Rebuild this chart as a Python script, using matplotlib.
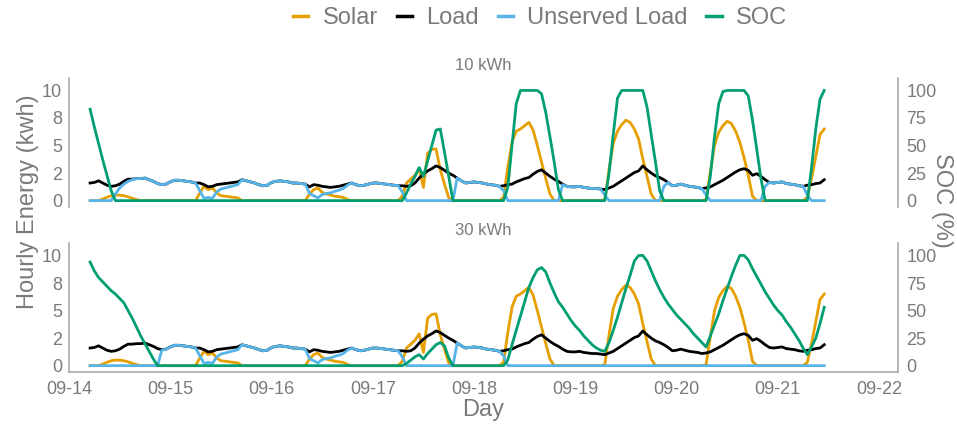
"""Hourly solar, load, unserved load and battery SOC for two battery sizes."""

import matplotlib
matplotlib.use("Agg")
import matplotlib.dates as mdates
import matplotlib.pyplot as plt
from matplotlib.lines import Line2D
from matplotlib.ticker import FixedLocator, FormatStrFormatter
import pandas as pd

plt.rcParams["font.family"] = ["Liberation Sans", "DejaVu Sans"]

START = "2023-09-14 05:00"

# hourly kWh, 09-14 05:00 through 09-21 11:00 (one row per day)
solar = [
    0, 0, 0, 0.15, 0.3, 0.45, 0.5, 0.5, 0.45, 0.35, 0.2, 0.1, 0, 0, 0, 0, 0, 0, 0,
    0, 0, 0, 0, 0, 0, 0, 0.7, 1.3, 1.0, 1.15, 0.7, 0.45, 0.4, 0.35, 0.3, 0.25, 0, 0, 0, 0, 0, 0, 0,
    0, 0, 0, 0, 0, 0, 0, 0, 0, 0.6, 1.0, 1.15, 0.75, 0.6, 0.5, 0.4, 0.35, 0.3, 0.1, 0, 0, 0, 0, 0,
    0, 0, 0, 0, 0, 0, 0, 0.4, 1.6, 1.95, 2.3, 2.9, 1.2, 4.3, 4.65, 4.7, 2.8, 1.5, 0.25, 0, 0, 0, 0, 0,
    0, 0, 0, 0, 0, 0, 0, 0.3, 3.0, 5.3, 6.3, 6.5, 6.8, 7.1, 6.4, 5.0, 3.5, 2.0, 0.6, 0, 0, 0, 0, 0,
    0, 0, 0, 0, 0, 0, 0, 0.1, 2.8, 5.2, 6.3, 6.9, 7.3, 7.1, 6.5, 5.6, 3.8, 2.2, 0.6, 0, 0, 0, 0, 0,
    0, 0, 0, 0, 0, 0, 0, 0.1, 2.6, 5.0, 6.2, 6.8, 7.2, 7.0, 6.3, 5.3, 3.9, 2.3, 0.4, 0, 0, 0, 0, 0,
    0, 0, 0, 0, 0, 0, 0, 0.3, 2.0, 4.0, 6.0, 6.5,
]
load = [
    1.6, 1.65, 1.8, 1.6, 1.4, 1.3, 1.35, 1.5, 1.75, 1.95, 1.95, 2.0, 2.0, 2.05, 1.9, 1.75, 1.55, 1.45, 1.5,
    1.7, 1.85, 1.85, 1.8, 1.75, 1.7, 1.6, 1.6, 1.45, 1.25, 1.3, 1.45, 1.5, 1.55, 1.6, 1.65, 1.7, 1.9, 1.8, 1.7, 1.6, 1.45, 1.35, 1.4,
    1.65, 1.75, 1.8, 1.75, 1.7, 1.6, 1.6, 1.55, 1.5, 1.25, 1.45, 1.4, 1.3, 1.25, 1.2, 1.25, 1.3, 1.4, 1.5, 1.6, 1.45, 1.35, 1.4, 1.5,
    1.6, 1.6, 1.55, 1.5, 1.45, 1.4, 1.35, 1.35, 1.3, 1.35, 1.6, 2.05, 2.4, 2.7, 2.9, 3.15, 3.0, 2.75, 2.5, 2.3, 2.05, 1.8, 1.6, 1.65,
    1.7, 1.65, 1.6, 1.5, 1.45, 1.4, 1.3, 1.35, 1.45, 1.5, 1.7, 1.85, 2.0, 2.1, 2.4, 2.65, 2.8, 2.5, 2.2, 1.95, 1.75, 1.5, 1.3, 1.25,
    1.25, 1.3, 1.2, 1.15, 1.1, 1.1, 1.05, 1.0, 1.15, 1.3, 1.55, 1.8, 2.05, 2.3, 2.55, 2.7, 3.15, 2.8, 2.5, 2.25, 2.1, 1.9, 1.65, 1.35,
    1.4, 1.5, 1.4, 1.3, 1.25, 1.2, 1.1, 1.15, 1.25, 1.45, 1.65, 1.85, 2.1, 2.35, 2.6, 2.8, 2.9, 2.75, 2.3, 2.45, 2.2, 1.9, 1.65, 1.6,
    1.65, 1.7, 1.55, 1.5, 1.45, 1.35, 1.3, 1.4, 1.45, 1.55, 1.6, 1.9,
]
unserved_10 = [
    0, 0, 0, 0, 0, 0, 0.6, 1.15, 1.5, 1.75, 1.9, 2.0, 2.0, 2.05, 1.9, 1.75, 1.55, 1.45, 1.5,
    1.7, 1.85, 1.85, 1.8, 1.75, 1.7, 1.6, 0.9, 0.2, 0.3, 0.2, 0.8, 1.05, 1.15, 1.25, 1.35, 1.45, 1.9, 1.8, 1.7, 1.6, 1.45, 1.35, 1.4,
    1.65, 1.75, 1.8, 1.75, 1.7, 1.6, 1.6, 1.55, 1.5, 0.65, 0.45, 0.25, 0.55, 0.65, 0.7, 0.85, 0.95, 1.1, 1.4, 1.6, 1.45, 1.35, 1.4, 1.5,
    1.6, 1.6, 1.55, 1.5, 1.45, 1.4, 1.35, 0.8, 0, 0, 0, 0, 0, 0, 0, 0, 0, 0, 0, 0, 2.05, 1.8, 1.6, 1.65,
    1.7, 1.65, 1.6, 1.5, 1.45, 1.4, 1.3, 0.9, 0, 0, 0, 0, 0, 0, 0, 0, 0, 0, 0, 0, 0, 1.45, 1.3, 1.25,
    1.25, 1.3, 1.2, 1.15, 1.1, 1.1, 1.05, 0.5, 0, 0, 0, 0, 0, 0, 0, 0, 0, 0, 0, 0, 0, 1.3, 1.65, 1.35,
    1.4, 1.5, 1.4, 1.3, 1.25, 1.2, 1.1, 0.5, 0, 0, 0, 0, 0, 0, 0, 0, 0, 0, 0, 0, 0, 1.3, 1.65, 1.6,
    1.65, 1.7, 1.55, 1.5, 1.45, 1.35, 1.3, 0.5, 0, 0, 0, 0,
]
unserved_30 = [
    0, 0, 0, 0, 0, 0, 0, 0, 0, 0, 0, 0, 0, 0, 0, 0, 0, 1.4, 1.5,
    1.7, 1.85, 1.85, 1.8, 1.75, 1.7, 1.6, 0.9, 0.2, 0.3, 0.2, 0.8, 1.05, 1.15, 1.25, 1.35, 1.45, 1.9, 1.8, 1.7, 1.6, 1.45, 1.35, 1.4,
    1.65, 1.75, 1.8, 1.75, 1.7, 1.6, 1.6, 1.55, 1.5, 0.65, 0.45, 0.25, 0.55, 0.65, 0.7, 0.85, 0.95, 1.1, 1.4, 1.6, 1.45, 1.35, 1.4, 1.5,
    1.6, 1.6, 1.55, 1.5, 1.45, 1.4, 1.35, 0.8, 0, 0, 0, 0, 0, 0, 0, 0, 0, 0, 0, 0, 2.05, 1.8, 1.6, 1.65,
    1.7, 1.65, 1.6, 1.5, 1.45, 1.4, 1.3, 0.9, 0, 0, 0, 0, 0, 0, 0, 0, 0, 0, 0, 0, 0, 0, 0, 0,
    0, 0, 0, 0, 0, 0, 0, 0, 0, 0, 0, 0, 0, 0, 0, 0, 0, 0, 0, 0, 0, 0, 0, 0,
    0, 0, 0, 0, 0, 0, 0, 0, 0, 0, 0, 0, 0, 0, 0, 0, 0, 0, 0, 0, 0, 0, 0, 0,
    0, 0, 0, 0, 0, 0, 0, 0, 0, 0, 0, 0,
]
# battery state of charge, %
soc_10 = [
    83, 67, 52, 37, 23, 9, 0, 0, 0, 0, 0, 0, 0, 0, 0, 0, 0, 0, 0,
    0, 0, 0, 0, 0, 0, 0, 0, 0, 0, 0, 0, 0, 0, 0, 0, 0, 0, 0, 0, 0, 0, 0, 0,
    0, 0, 0, 0, 0, 0, 0, 0, 0, 0, 0, 0, 0, 0, 0, 0, 0, 0, 0, 0, 0, 0, 0, 0,
    0, 0, 0, 0, 0, 0, 0, 0, 7, 15, 22, 30, 22, 36, 50, 64, 65, 44, 22, 0, 0, 0, 0, 0,
    0, 0, 0, 0, 0, 0, 0, 0, 12, 50, 88, 100, 100, 100, 100, 100, 97, 80, 58, 35, 10, 0, 0, 0,
    0, 0, 0, 0, 0, 0, 0, 0, 25, 60, 93, 100, 100, 100, 100, 100, 100, 85, 60, 35, 9, 0, 0, 0,
    0, 0, 0, 0, 0, 0, 0, 0, 22, 58, 88, 99, 100, 100, 100, 100, 100, 95, 73, 47, 20, 0, 0, 0,
    0, 0, 0, 0, 0, 0, 0, 0, 30, 65, 92, 100,
]
soc_30 = [
    94, 86, 80, 76, 72, 68, 65, 61, 57, 50, 43, 35, 27, 20, 13, 6, 0, 0, 0,
    0, 0, 0, 0, 0, 0, 0, 0, 0, 0, 0, 0, 0, 0, 0, 0, 0, 0, 0, 0, 0, 0, 0, 0,
    0, 0, 0, 0, 0, 0, 0, 0, 0, 0, 0, 0, 0, 0, 0, 0, 0, 0, 0, 0, 0, 0, 0, 0,
    0, 0, 0, 0, 0, 0, 0, 0, 2, 5, 8, 10, 6, 11, 15, 19, 21, 18, 7, 0, 0, 0, 0, 0,
    0, 0, 0, 0, 0, 0, 0, 0, 5, 19, 32, 45, 58, 71, 80, 87, 89, 85, 75, 66, 58, 53, 47, 41,
    36, 32, 27, 23, 19, 16, 14, 13, 21, 32, 44, 57, 70, 82, 95, 100, 100, 95, 86, 77, 69, 62, 56, 51,
    46, 42, 38, 34, 29, 25, 21, 17, 27, 37, 47, 59, 70, 81, 91, 100, 100, 96, 88, 81, 74, 67, 61, 55,
    50, 46, 40, 35, 29, 23, 16, 10, 17, 25, 38, 53,
]

panels = [
    ("10 kWh", unserved_10, soc_10),
    ("30 kWh", unserved_30, soc_30),
]

SOLAR_C = "#E69F00"
LOAD_C = "#000000"
UNSERVED_C = "#56B4E9"
SOC_C = "#009E73"
TEXT_C = "#7a7a7a"
SPINE_C = "#aaaaaa"
LW = 2.0

times = pd.date_range(START, periods=len(solar), freq="h")
x0 = pd.Timestamp("2023-09-14 00:00")
x1 = x0 + pd.Timedelta(hours=196.5)

fig = plt.figure(figsize=(9.57, 4.24), dpi=100)
boxes = [[0.0721, 0.5125, 0.8663, 0.3028], [0.0721, 0.1233, 0.8663, 0.3028]]
title_y = [1 - 66 / 424, 1 - 231 / 424]

for i, (title, unserved, soc) in enumerate(panels):
    ax = fig.add_axes(boxes[i])
    ax.plot(times, solar, color=SOLAR_C, lw=LW)
    ax.plot(times, load, color=LOAD_C, lw=LW)
    ax.plot(times, unserved, color=UNSERVED_C, lw=LW)
    ax.set_ylim(-0.55, 11.1)
    ax.set_xlim(x0, x1)
    ax.yaxis.set_major_locator(FixedLocator([0, 2.5, 5, 7.5, 10]))
    ax.yaxis.set_major_formatter(FormatStrFormatter("%.0f"))

    ax2 = ax.twinx()
    ax2.plot(times, soc, color=SOC_C, lw=LW)
    ax2.set_ylim(-5.5, 111)
    ax2.yaxis.set_major_locator(FixedLocator([0, 25, 50, 75, 100]))

    for a in (ax, ax2):
        a.set_xlim(x0, x1)
        a.tick_params(length=0, labelsize=13, labelcolor=TEXT_C)
        a.spines["top"].set_visible(False)
        for s in a.spines.values():
            s.set_color(SPINE_C)
            s.set_linewidth(1.2)
    ax.tick_params(axis="y", pad=5)
    ax2.tick_params(axis="y", pad=6)
    ax.spines["right"].set_visible(False)
    ax2.spines["left"].set_visible(False)

    ax.xaxis.set_major_locator(mdates.DayLocator())
    ax.xaxis.set_major_formatter(mdates.DateFormatter("%m-%d"))
    if i == 0:
        ax.spines["bottom"].set_visible(False)
        ax2.spines["bottom"].set_visible(False)
        ax.tick_params(axis="x", labelbottom=False)
    else:
        ax2.spines["bottom"].set_visible(False)
        ax.tick_params(axis="x", pad=7)

    fig.text(483 / 957, title_y[i], title, ha="center", va="center",
             fontsize=12, color=TEXT_C)

fig.text(28 / 957, 222 / 424, "Hourly Energy (kwh)", rotation=90,
         ha="center", va="center", fontsize=17, color=TEXT_C)
fig.text(942 / 957, 224 / 424, "SOC (%)", rotation=270,
         ha="center", va="center", fontsize=17, color=TEXT_C)
fig.text(483 / 957, 1 - 410 / 424, "Day", ha="center", va="center",
         fontsize=17, color=TEXT_C)

handles = [Line2D([], [], color=c, lw=2.5) for c in (SOLAR_C, LOAD_C, UNSERVED_C, SOC_C)]
leg = fig.legend(handles, ["Solar", "Load", "Unserved Load", "SOC"],
                 loc="center", bbox_to_anchor=(540 / 957, 1 - 18 / 424),
                 ncol=4, frameon=False, fontsize=17, handlelength=0.65,
                 handletextpad=0.6, columnspacing=0.8)
for t in leg.get_texts():
    t.set_color(TEXT_C)

fig.savefig("out.png", dpi=100)
